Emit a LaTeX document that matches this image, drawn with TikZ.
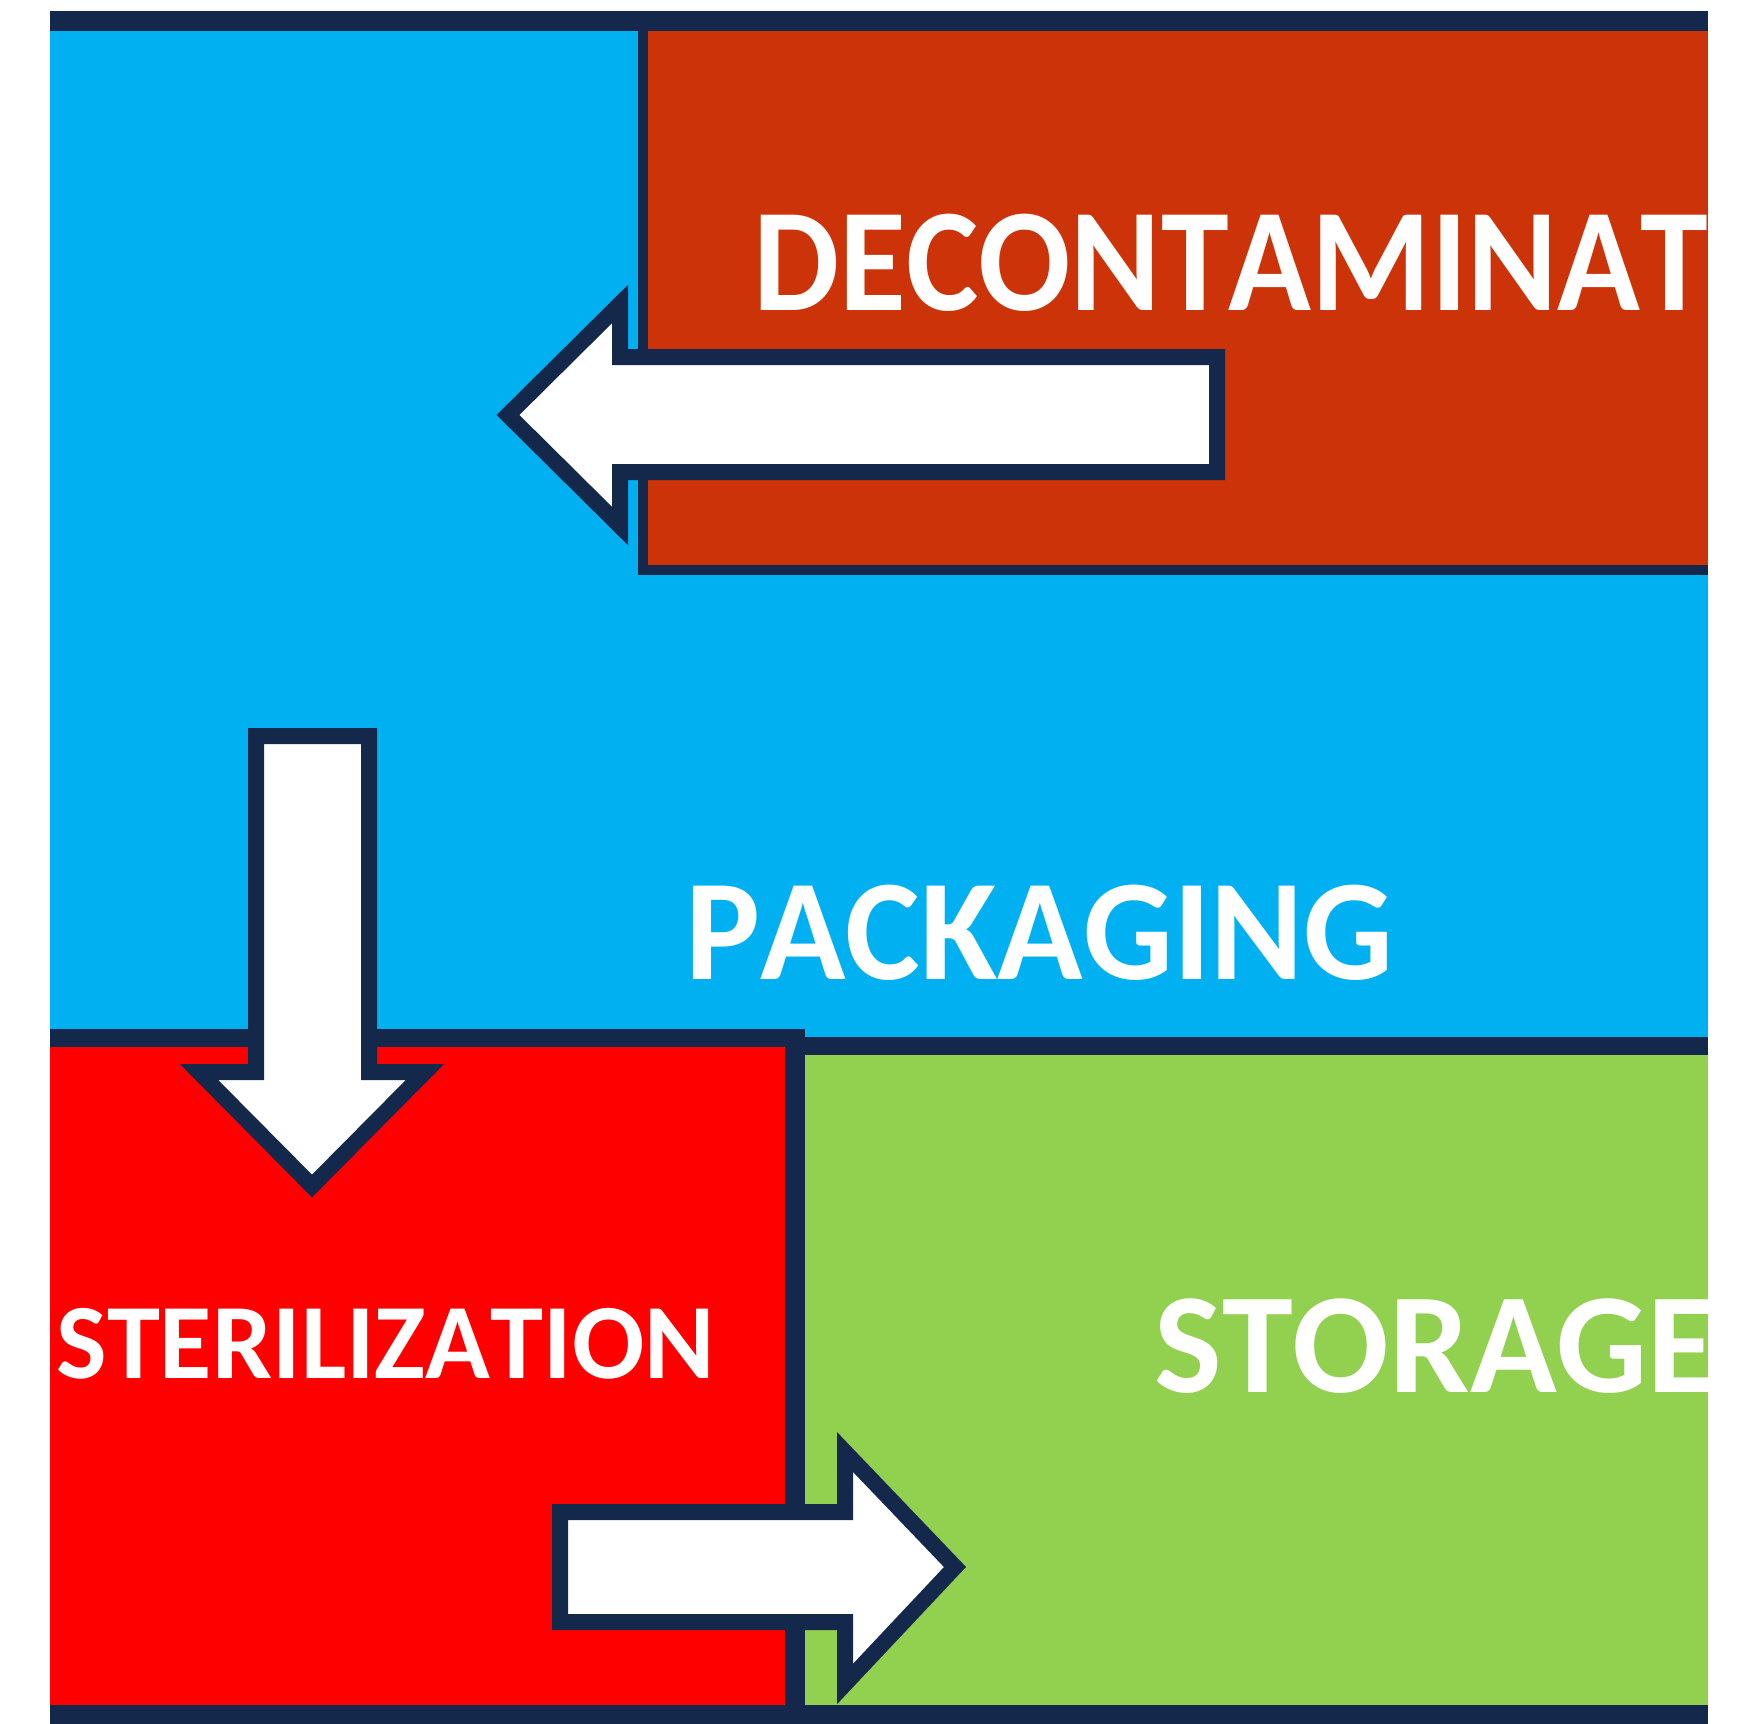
\documentclass[tikz,border=0pt]{standalone}
\usepackage{fontspec}
\setmainfont{Carlito}[Kerning=Off]
\definecolor{navy}{HTML}{14284B}
\definecolor{packblue}{HTML}{00B0F0}
\definecolor{deconred}{HTML}{CC3308}
\definecolor{sterred}{HTML}{FF0000}
\definecolor{storgreen}{HTML}{92D050}
\tikzset{
  divider/.style={draw=navy, line cap=butt},
  flowarrow/.style={fill=white, draw=navy, line width=8pt, line join=miter, miter limit=10},
  stagelabel/.style={text=white, inner sep=0pt, anchor=base west, font=\bfseries}
}
\begin{document}
\begin{tikzpicture}[x=0.5pt, y=-0.5pt]
  % page with white margins
  \fill[white] (0,0) rectangle (1742,1724);
  \useasboundingbox (0,0) rectangle (1742,1724);

  % coloured stage panels
  \fill[packblue] (50,31) rectangle (1708,1040);
  \fill[deconred] (643,31) rectangle (1708,570);
  \fill[sterred] (50,1038) rectangle (795,1705);
  \fill[storgreen] (795,1046) rectangle (1708,1705);

  % panel borders
  \draw[divider, line width=5pt] (643,31) -- (643,570) -- (1708,570);
  \draw[divider, line width=9pt] (50,1038) -- (805,1038);
  \draw[divider, line width=9pt] (795,1046) -- (1708,1046);
  \draw[divider, line width=10pt] (795,1029) -- (795,1705);

  % top and bottom bands
  \fill[navy] (50,11) rectangle (1708,31);
  \fill[navy] (50,1705) rectangle (1708,1724);

  % stage names, cut off at the frame edge
  \begin{scope}
    \clip (50,0) rectangle (1708,1724);
    \node[stagelabel, font=\bfseries\fontsize{73.5}{80}\selectfont] (decon) at (753,310) {\scalebox{0.93}[1]{DECONTAMINAT}};
    \node[stagelabel, font=\bfseries\fontsize{72}{80}\selectfont] (pack) at (685,979) {\scalebox{0.98}[1]{PACKAGING}};
    \node[stagelabel, font=\bfseries\fontsize{53.5}{60}\selectfont] (steril) at (56,1378) {STERILIZATION};
    \node[stagelabel, font=\bfseries\fontsize{71.5}{80}\selectfont] (store) at (1154,1392) {STORAGE};
  \end{scope}

  % flow arrows between the stages
  \coordinate (a1tip) at (508,415);
  \filldraw[flowarrow] (a1tip) -- (620,304) -- (620,357) -- (1217,357)
    -- (1217,472) -- (620,472) -- (620,526) -- cycle;

  \coordinate (a2tip) at (312,1186);
  \filldraw[flowarrow] (a2tip) -- (199,1072) -- (256,1072) -- (256,736)
    -- (369,736) -- (369,1072) -- (425,1072) -- cycle;

  \coordinate (a3tip) at (955,1567);
  \filldraw[flowarrow] (a3tip) -- (845,1452) -- (845,1512) -- (560,1512)
    -- (560,1622) -- (845,1622) -- (845,1684) -- cycle;
\end{tikzpicture}
\end{document}
